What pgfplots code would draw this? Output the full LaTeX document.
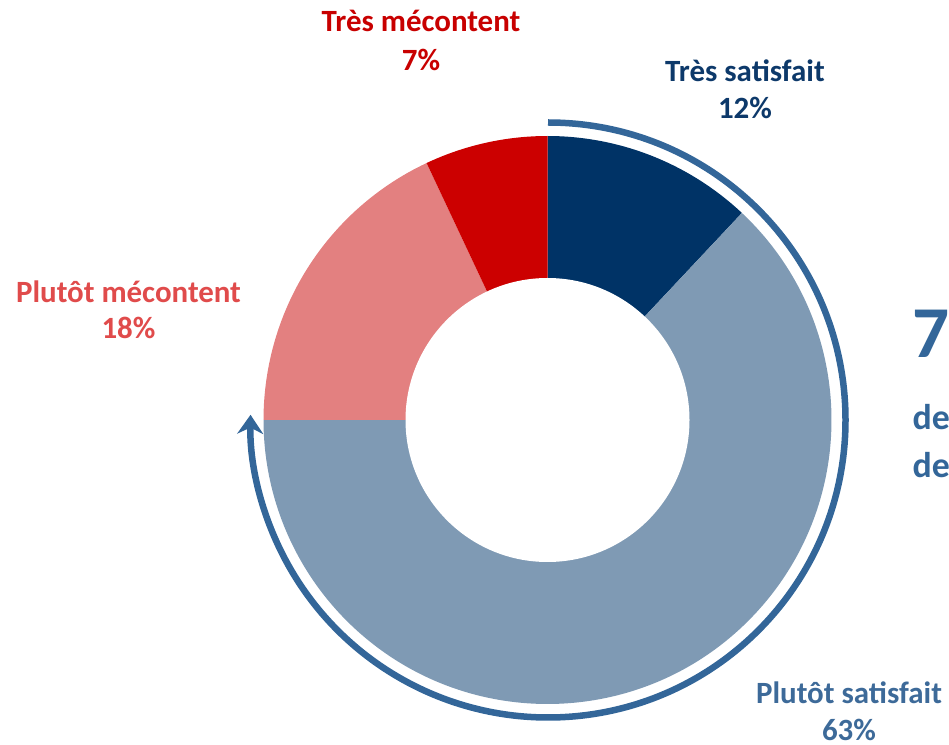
\documentclass[border=0pt]{standalone}
\usepackage{pgfplots}
\pgfplotsset{compat=1.18}
\usetikzlibrary{arrows.meta}
\usepackage{fontspec}
\setmainfont{Carlito}
\definecolor{cTS}{HTML}{003366}
\definecolor{cPS}{HTML}{7F9AB4}
\definecolor{cPM}{HTML}{E38080}
\definecolor{cTM}{HTML}{CC0000}
\definecolor{cArc}{HTML}{336699}
\definecolor{tTS}{HTML}{0D396A}
\definecolor{tPS}{HTML}{3D6A99}
\definecolor{tPM}{HTML}{E04B4B}
\definecolor{tTM}{HTML}{C80000}
% values (percent), clockwise from 12 o'clock
\def\vTS{12}\def\vPS{63}\def\vPM{18}\def\vTM{7}
\pgfmathsetmacro\aA{90-3.6*\vTS}
\pgfmathsetmacro\aB{\aA-3.6*\vPS}
\pgfmathsetmacro\aC{\aB-3.6*\vPM}
\pgfmathsetmacro\aD{\aC-3.6*\vTM}
\newcommand\lab{\fontsize{8.8}{10.6}\selectfont\bfseries}
\begin{document}
\begin{tikzpicture}
\path[use as bounding box] (0,0) rectangle (9.49cm,7.44cm);
\clip (0,0) rectangle (9.49cm,7.44cm);
\begin{axis}[at={(0,0)}, anchor=south west, scale only axis,
  width=9.49cm, height=7.44cm, xmin=0, xmax=949, ymin=0, ymax=744,
  axis lines=none, clip=false]
\fill[cTS] (axis cs:547.5,324) -- ++(90:2.84cm) arc[start angle=90,end angle=\aA,radius=2.84cm] -- cycle;
\fill[cPS] (axis cs:547.5,324) -- ++(\aA:2.84cm) arc[start angle=\aA,end angle=\aB,radius=2.84cm] -- cycle;
\fill[cPM] (axis cs:547.5,324) -- ++(\aB:2.84cm) arc[start angle=\aB,end angle=\aC,radius=2.84cm] -- cycle;
\fill[cTM] (axis cs:547.5,324) -- ++(\aC:2.84cm) arc[start angle=\aC,end angle=\aD,radius=2.84cm] -- cycle;
\fill[white] (axis cs:547.5,324) circle[radius=1.42cm];
\draw[cArc, line width=0.065cm, -{Stealth[length=0.19cm,width=0.26cm]}]
  (axis cs:548,324) ++(90:2.975cm) arc[start angle=90,end angle=-181,radius=2.975cm];
% labels
\node[anchor=base, inner sep=0, text=tTM] at (axis cs:421,712) {\lab Très mécontent};
\node[anchor=base, inner sep=0, text=tTM] at (axis cs:421,673) {\lab 7\%};
\node[anchor=base, inner sep=0, text=tTS] at (axis cs:745,662) {\lab Très satisfait};
\node[anchor=base, inner sep=0, text=tTS] at (axis cs:745,625) {\lab 12\%};
\node[anchor=base, inner sep=0, text=tPM] at (axis cs:128.5,441) {\lab Plutôt mécontent};
\node[anchor=base, inner sep=0, text=tPM] at (axis cs:128.5,405) {\lab 18\%};
\node[anchor=base, inner sep=0, text=tPS] at (axis cs:849,41) {\lab Plutôt satisfait};
\node[anchor=base, inner sep=0, text=tPS] at (axis cs:849,4) {\lab 63\%};
% right-hand text (cut by the picture edge)
\node[anchor=base west, inner sep=0, text=cArc] at (axis cs:912,386) {\fontsize{20.8}{24}\selectfont\bfseries 75\%};
\node[anchor=base west, inner sep=0, text=cArc] at (axis cs:912,314) {\fontsize{10.2}{12}\selectfont\bfseries des usagers};
\node[anchor=base west, inner sep=0, text=cArc] at (axis cs:912,266) {\fontsize{10.2}{12}\selectfont\bfseries des services};
\end{axis}
\end{tikzpicture}
\end{document}
